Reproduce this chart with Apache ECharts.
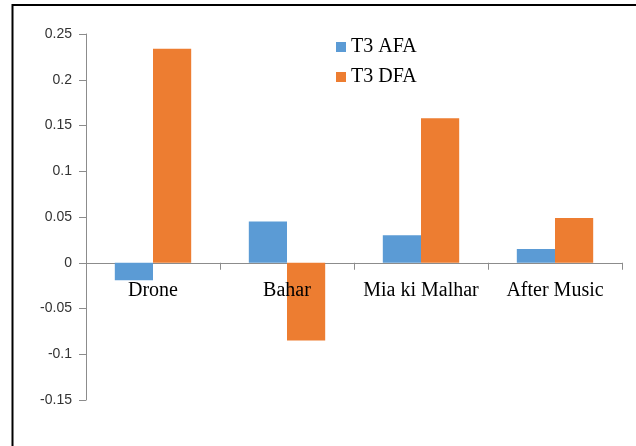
<!DOCTYPE html>
<html>
<head>
<meta charset="utf-8">
<script src="https://cdn.jsdelivr.net/npm/echarts@6/dist/echarts.min.js"></script>
<style>
html,body{margin:0;padding:0;background:#fff;}
#chart{width:636px;height:446px;}
</style>
</head>
<body>
<div id="chart"></div>
<script>
const categories = ['Drone', 'Bahar', 'Mia ki Malhar', 'After Music'];
const seriesNames = ['T3 AFA', 'T3 DFA'];
const afaValues = [-0.019, 0.045, 0.03, 0.015];
const dfaValues = [0.234, -0.085, 0.158, 0.049];
const yTicks = { min: -0.15, max: 0.25, interval: 0.05 };

const chart = echarts.init(document.getElementById('chart'));
chart.setOption({
  animation: false,
  backgroundColor: '#fff',
  grid: [
    { left: 86, right: 14, top: 34, bottom: 46, containLabel: false },
    { left: 86, right: 14, top: 34, bottom: 183, containLabel: false }
  ],
  legend: {
    orient: 'vertical',
    left: 336,
    top: 37,
    padding: 0,
    itemWidth: 10,
    itemHeight: 10,
    itemGap: 10,
    icon: 'rect',
    data: seriesNames,
    textStyle: { fontFamily: 'Liberation Serif', fontSize: 20, color: '#000' }
  },
  xAxis: [
    {
      type: 'category',
      gridIndex: 0,
      data: categories,
      axisLine: { onZero: true, lineStyle: { color: '#8c8c8c', width: 1 } },
      axisTick: { show: true, length: 7, inside: false, lineStyle: { color: '#8c8c8c' } },
      axisLabel: { show: false }
    },
    {
      type: 'category',
      gridIndex: 1,
      z: 10,
      data: categories,
      axisLine: { show: false },
      axisTick: { show: false },
      axisLabel: { fontFamily: 'Liberation Serif', fontSize: 20, color: '#000', margin: 18, interval: 0 }
    }
  ],
  yAxis: [
    {
      type: 'value',
      gridIndex: 0,
      min: yTicks.min,
      max: yTicks.max,
      interval: yTicks.interval,
      axisLine: { show: true, lineStyle: { color: '#8c8c8c', width: 1 } },
      axisTick: { show: true, length: 7, lineStyle: { color: '#8c8c8c' } },
      splitLine: { show: false },
      axisLabel: {
        fontFamily: 'Liberation Sans', fontSize: 14, color: '#333', margin: 14,
        formatter: function (v) { return String(parseFloat(v.toFixed(2))); }
      }
    },
    {
      type: 'value',
      gridIndex: 1,
      show: false,
      min: 0,
      max: 1
    }
  ],
  series: [
    { name: seriesNames[0], type: 'bar', xAxisIndex: 0, yAxisIndex: 0, data: afaValues, itemStyle: { color: '#5B9BD5' }, barGap: '0%', barCategoryGap: '43%' },
    { name: seriesNames[1], type: 'bar', xAxisIndex: 0, yAxisIndex: 0, data: dfaValues, itemStyle: { color: '#ED7D31' }, barGap: '0%', barCategoryGap: '43%' }
  ],
  graphic: [
    { type: 'polyline', shape: { points: [[12.5, 446], [12.5, 5], [636, 5]] }, style: { stroke: '#000', lineWidth: 2, fill: null }, silent: true }
  ]
});
</script>
</body>
</html>
